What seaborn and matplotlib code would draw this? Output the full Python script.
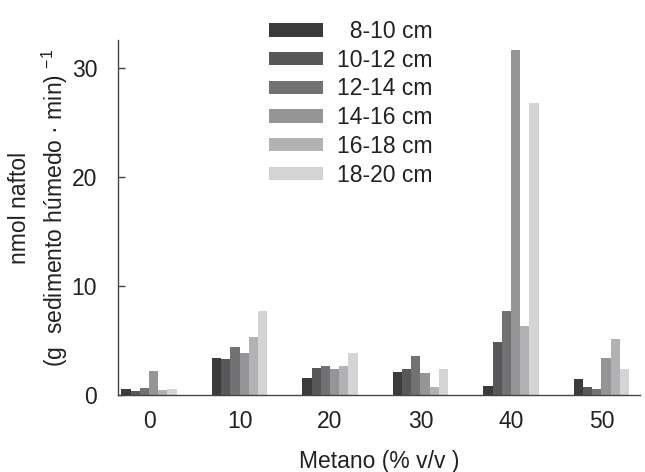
import numpy as np
import pandas as pd
import matplotlib
matplotlib.use("Agg")
import matplotlib.pyplot as plt
import seaborn as sns

# ---- data ----
metano = ["0", "10", "20", "30", "40", "50"]
depths = ["8-10 cm", "10-12 cm", "12-14 cm", "14-16 cm", "16-18 cm", "18-20 cm"]
v_8_10 = [0.52, 3.45, 1.55, 2.1, 0.8, 1.5]
v_10_12 = [0.37, 3.35, 2.45, 2.4, 4.9, 0.7]
v_12_14 = [0.67, 4.45, 2.7, 3.6, 7.75, 0.55]
v_14_16 = [2.2, 3.85, 2.4, 2.0, 31.7, 3.4]
v_16_18 = [0.43, 5.35, 2.65, 0.7, 6.3, 5.15]
v_18_20 = [0.55, 7.7, 3.85, 2.35, 26.8, 2.4]
series = [v_8_10, v_10_12, v_12_14, v_14_16, v_16_18, v_18_20]
colors = ["#3b3b3b", "#58585a", "#727274", "#959597", "#b2b2b4", "#d4d4d6"]

rows = []
for d, vals in zip(depths, series):
    for m, v in zip(metano, vals):
        rows.append({"metano": m, "depth": d, "value": v})
df = pd.DataFrame(rows)

sns.set_theme(style="white")
plt.rcParams["font.family"] = ["Liberation Sans", "DejaVu Sans"]
plt.rcParams["mathtext.fontset"] = "custom"
plt.rcParams["mathtext.rm"] = "Liberation Sans"

FS = 16.5
fig = plt.figure(figsize=(6.45, 4.72), dpi=100)
ax = fig.add_axes([0.183, 0.163, 0.809, 0.752])

sns.barplot(data=df, x="metano", y="value", hue="depth", order=metano,
            hue_order=depths, palette=colors, width=0.61, errorbar=None,
            saturation=1, linewidth=0, ax=ax)

ax.set_xlim(-0.343, 5.425)
ax.set_ylim(0, 32.6)
ax.set_yticks([0, 10, 20, 30])
ax.tick_params(axis="y", direction="in", length=5, width=1, color="#444444",
               pad=15, labelsize=FS, labelcolor="#222222", left=True)
ax.tick_params(axis="x", length=0, pad=11, labelsize=FS, labelcolor="#222222")

for s in ["top", "right"]:
    ax.spines[s].set_visible(False)
for s in ["left", "bottom"]:
    ax.spines[s].set_color("#444444")
    ax.spines[s].set_linewidth(1.0)

ax.set_xlabel("Metano (% v/v )", fontsize=FS, color="#222222", labelpad=12)
ax.set_ylabel("nmol naftol\n(g  sedimento húmedo · min) $^{\\mathregular{-1}}$",
              fontsize=FS, color="#222222", linespacing=1.35)
ax.yaxis.set_label_coords(-0.093, 0.528)

handles, labels = ax.get_legend_handles_labels()
maxlen = max(len(l) for l in labels)
labels = ["  " * (maxlen - len(l)) + l for l in labels]
ax.legend(handles, labels, loc="upper left", bbox_to_anchor=(0.417, 1 - 20 / 472),
          bbox_transform=fig.transFigure, frameon=False, fontsize=FS,
          handlelength=2.35, handleheight=0.52, handletextpad=0.64,
          labelspacing=0.25, borderpad=0, borderaxespad=0,
          labelcolor="#222222")

fig.savefig("out.png", dpi=100)
